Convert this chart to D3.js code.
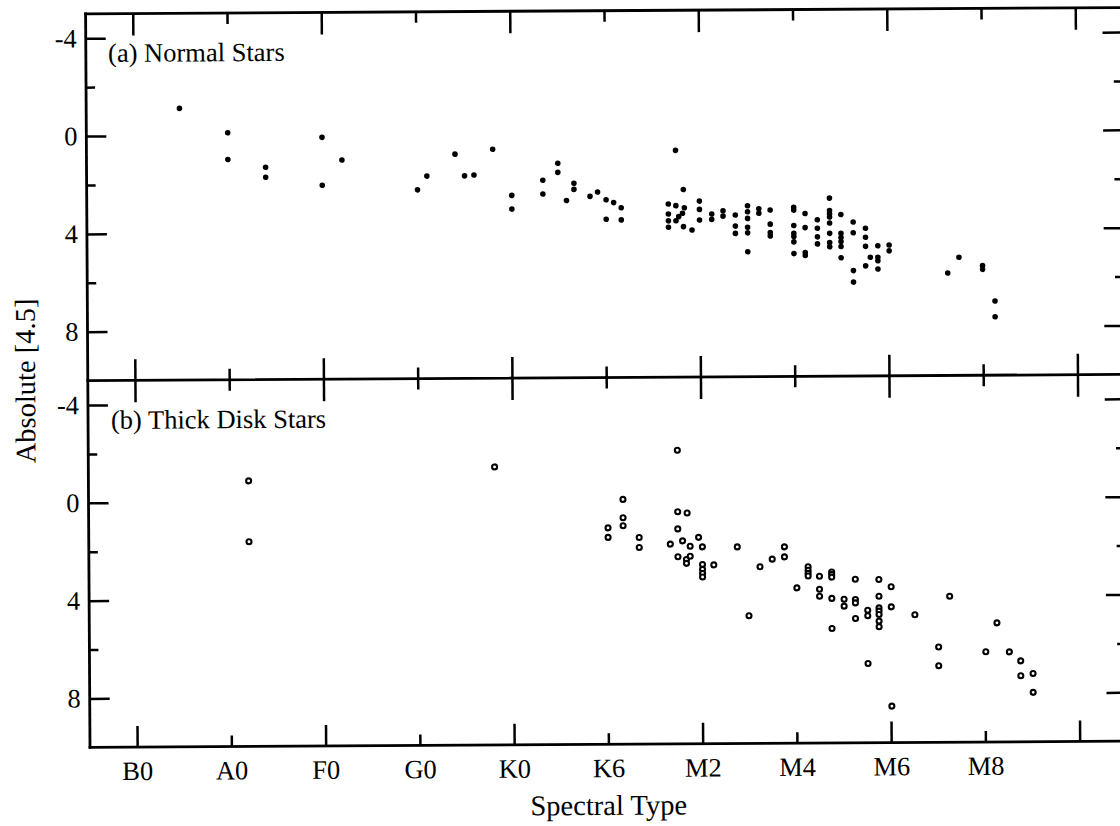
<!DOCTYPE html>
<html>
<head>
<meta charset="utf-8">
<script src="https://cdn.jsdelivr.net/npm/d3@7"></script>
<style>
  html, body { margin: 0; padding: 0; background: #ffffff; }
  svg { display: block; }
</style>
</head>
<body>
<svg id="chart" width="1120" height="826"></svg>
<script>
// ---------- data ----------
// x: spectral type as index (0 = B0, 1 = A0, 2 = F0, 3 = G0, 4 = K0, 5 = K6, 6 = M2, 7 = M4, 8 = M6, 9 = M8)
const spectralLabels = ["B0", "A0", "F0", "G0", "K0", "K6", "M2", "M4", "M6", "M8", ""];
const yMajorTicks = [-4, 0, 4, 8];
const yMinorTicks = [-2, 2, 6];
const panelLabels = ["(a) Normal Stars", "(b) Thick Disk Stars"];
const xTitle = "Spectral Type";
const yTitle = "Absolute [4.5]";

const normalX = [0.49, 1.00, 1.00, 1.40, 1.40, 2.00, 2.00, 2.21, 3.01, 3.11,
  3.41, 3.51, 3.61, 3.81, 4.01, 4.01, 4.34, 4.34, 4.50, 4.50,
  4.59, 4.67, 4.67, 4.84, 4.92, 5.01, 5.01, 5.09, 5.17, 5.17,
  5.75, 5.83, 5.67, 5.75, 5.67, 5.67, 5.67, 5.84, 5.82, 5.78,
  5.75, 5.83, 5.92, 6.00, 6.00, 6.00, 6.13, 6.13, 6.25, 6.25,
  6.38, 6.38, 6.38, 6.51, 6.51, 6.51, 6.51, 6.51, 6.51, 6.63,
  6.63, 6.75, 6.75, 6.75, 6.75, 7.00, 7.00, 7.00, 7.00, 7.00,
  7.00, 7.00, 7.12, 7.12, 7.12, 7.12, 7.25, 7.25, 7.25, 7.25,
  7.38, 7.38, 7.38, 7.38, 7.38, 7.38, 7.38, 7.38, 7.50, 7.50,
  7.50, 7.50, 7.50, 7.50, 7.63, 7.63, 7.63, 7.63, 7.76, 7.76,
  7.76, 7.76, 7.81, 7.89, 7.89, 7.89, 7.89, 8.01, 8.01, 8.63,
  8.75, 9.00, 9.00, 9.13, 9.13];
const normalY = [-1.11, -0.10, 0.99, 1.32, 1.73, 0.11, 2.07, 1.04, 2.28, 1.72,
  0.83, 1.72, 1.69, 0.64, 2.53, 3.09, 1.92, 2.48, 1.23, 1.60,
  2.75, 2.05, 2.30, 2.59, 2.41, 2.73, 3.53, 2.85, 3.06, 3.56,
  0.73, 2.33, 2.92, 2.99, 3.33, 3.61, 3.87, 3.08, 3.30, 3.44,
  3.61, 3.85, 3.99, 2.81, 3.15, 3.58, 3.34, 3.56, 3.21, 3.43,
  3.39, 3.84, 4.14, 3.01, 3.26, 3.53, 3.89, 4.12, 4.89, 3.14,
  3.32, 3.19, 3.77, 4.11, 4.25, 3.09, 3.20, 3.83, 4.15, 4.28,
  4.50, 4.98, 3.34, 3.92, 4.94, 5.06, 3.60, 3.95, 4.30, 4.59,
  2.72, 3.23, 3.36, 3.49, 3.74, 4.16, 4.54, 4.71, 3.39, 4.16,
  4.33, 4.50, 4.70, 5.16, 3.70, 4.14, 5.69, 6.16, 3.96, 4.33,
  4.70, 5.50, 5.15, 4.68, 5.15, 5.29, 5.63, 4.65, 4.89, 5.81,
  5.17, 5.51, 5.67, 6.97, 7.61];

const thickX = [1.20, 1.20, 3.81, 5.75, 5.17, 5.17, 5.17, 5.01, 5.01, 5.34,
  5.34, 5.75, 5.85, 5.75, 5.67, 5.80, 5.88, 5.97, 6.01, 5.75,
  5.84, 5.84, 5.88, 6.01, 6.01, 6.01, 6.01, 6.13, 6.38, 6.62,
  6.50, 6.88, 6.88, 6.75, 7.13, 7.13, 7.13, 7.13, 7.25, 7.38,
  7.38, 7.38, 7.01, 7.25, 7.25, 7.38, 7.51, 7.51, 7.63, 7.63,
  7.63, 7.63, 7.76, 7.76, 7.76, 7.88, 7.88, 7.88, 7.88, 7.88,
  7.88, 7.88, 8.01, 8.01, 7.38, 8.63, 8.26, 8.51, 8.51, 9.13,
  9.01, 9.26, 9.38, 9.38, 9.51, 9.51, 8.01];
const thickY = [-0.86, 1.63, -1.37, -2.01, -0.01, 0.74, 1.07, 1.15, 1.54, 1.55,
  1.96, 0.51, 0.56, 1.21, 1.83, 1.70, 1.92, 1.56, 1.95, 2.35,
  2.46, 2.62, 2.33, 2.67, 2.87, 3.04, 3.18, 2.69, 1.96, 2.78,
  4.78, 1.97, 2.38, 2.47, 2.79, 2.93, 3.06, 3.17, 3.18, 3.01,
  3.11, 3.22, 3.65, 3.71, 4.00, 4.09, 4.13, 4.41, 4.14, 4.28,
  3.31, 4.92, 4.58, 4.81, 6.76, 3.33, 4.01, 4.49, 4.62, 4.76,
  5.03, 5.26, 3.63, 4.45, 5.32, 4.03, 4.78, 6.10, 6.87, 5.13,
  6.31, 6.32, 6.69, 7.30, 7.21, 7.98, 8.51];

// ---------- layout ----------
const W = 1120, H = 826;
const plotLeft = 87.8, plotRight = 1124.6, plotTop = 13.8, plotMid = 380.6, plotBottom = 747.4;
const serif = "'Liberation Serif', 'Times New Roman', Times, serif";

const svg = d3.select("#chart");
svg.append("rect").attr("width", W).attr("height", H).attr("fill", "#ffffff");

// the scanned figure is slightly tilted
const g = svg.append("g").attr("transform", `rotate(-0.344, ${plotLeft}, ${plotMid})`);

const x = d3.scaleLinear().domain([-0.5, 10.5]).range([plotLeft, plotRight]);
const yA = d3.scaleLinear().domain([-5, 10]).range([plotTop, plotMid]);
const yB = d3.scaleLinear().domain([-5, 10]).range([plotMid, plotBottom]);

const evenIdx = d3.range(0, 11, 2);
const oddIdx = d3.range(1, 11, 2);

function styleAxis(sel, showText) {
  sel.select(".domain").remove();
  sel.selectAll(".tick line").attr("stroke", "#000").attr("stroke-width", 2.5);
  sel.selectAll(".tick text")
    .attr("font-family", serif)
    .attr("font-size", 26.5)
    .attr("fill", "#000");
  if (!showText) sel.selectAll(".tick text").remove();
  sel.attr("font-family", null).attr("font-size", null);
}

function drawPanel(yScale, yTop, yBot, showXLabels) {
  // top x ticks (pointing down)
  g.append("g").attr("transform", `translate(0,${yTop})`)
    .call(d3.axisTop(x).tickValues(evenIdx).tickSize(-22).tickFormat(""))
    .call(s => styleAxis(s, false));
  g.append("g").attr("transform", `translate(0,${yTop})`)
    .call(d3.axisTop(x).tickValues(oddIdx).tickSize(-11).tickFormat(""))
    .call(s => styleAxis(s, false));
  // bottom x ticks (pointing up)
  g.append("g").attr("transform", `translate(0,${yBot})`)
    .call(d3.axisBottom(x).tickValues(evenIdx).tickSize(-21).tickFormat(""))
    .call(s => styleAxis(s, false));
  g.append("g").attr("transform", `translate(0,${yBot})`)
    .call(d3.axisBottom(x).tickValues(oddIdx).tickSize(-11).tickFormat(""))
    .call(s => styleAxis(s, false));
  if (showXLabels) {
    g.append("g").attr("transform", `translate(0,${yBot})`)
      .call(d3.axisBottom(x).tickValues(d3.range(0, 11)).tickSize(0).tickPadding(14)
        .tickFormat(i => spectralLabels[i]))
      .call(s => styleAxis(s, true))
      .call(s => s.selectAll(".tick line").remove());
  }
  // left y ticks
  g.append("g").attr("transform", `translate(${plotLeft},0)`)
    .call(d3.axisLeft(yScale).tickValues(yMajorTicks).tickSize(-20).tickPadding(9)
      .tickFormat(d => d < 0 ? "-" + Math.abs(d) : String(d)))
    .call(s => styleAxis(s, true));
  g.append("g").attr("transform", `translate(${plotLeft},0)`)
    .call(d3.axisLeft(yScale).tickValues(yMinorTicks).tickSize(-9).tickFormat(""))
    .call(s => styleAxis(s, false));
  // right y ticks
  g.append("g").attr("transform", `translate(${plotRight},0)`)
    .call(d3.axisRight(yScale).tickValues(yMajorTicks).tickSize(-20).tickFormat(""))
    .call(s => styleAxis(s, false));
  g.append("g").attr("transform", `translate(${plotRight},0)`)
    .call(d3.axisRight(yScale).tickValues(yMinorTicks).tickSize(-9).tickFormat(""))
    .call(s => styleAxis(s, false));
}

drawPanel(yA, plotTop, plotMid, false);
drawPanel(yB, plotMid, plotBottom, true);

// frame
const frame = g.append("g").attr("stroke", "#000").attr("stroke-width", 2.8)
  .attr("stroke-linecap", "square").attr("fill", "none");
[plotTop, plotMid, plotBottom].forEach(yy => {
  frame.append("line").attr("x1", plotLeft).attr("x2", plotRight).attr("y1", yy).attr("y2", yy);
});
[plotLeft, plotRight].forEach(xx => {
  frame.append("line").attr("x1", xx).attr("x2", xx).attr("y1", plotTop).attr("y2", plotBottom);
});

// panel labels
g.append("text").attr("x", 110).attr("y", 62)
  .attr("font-family", serif).attr("font-size", 26.5).attr("fill", "#000")
  .text(panelLabels[0]);
g.append("text").attr("x", 110.7).attr("y", 429)
  .attr("font-family", serif).attr("font-size", 26.5).attr("fill", "#000")
  .text(panelLabels[1]);

// axis titles
g.append("text").attr("x", (plotLeft + plotRight) / 2).attr("y", 818)
  .attr("text-anchor", "middle")
  .attr("font-family", serif).attr("font-size", 28.5).attr("fill", "#000")
  .text(xTitle);
g.append("text")
  .attr("transform", `translate(35,${(plotTop + plotBottom) / 2}) rotate(-90)`)
  .attr("text-anchor", "middle")
  .attr("font-family", serif).attr("font-size", 28.5).attr("fill", "#000")
  .text(yTitle);

// points
const normal = normalX.map((v, i) => ({ x: v, y: normalY[i] }));
const thick = thickX.map((v, i) => ({ x: v, y: thickY[i] }));

g.append("g").selectAll("circle").data(normal).join("circle")
  .attr("cx", d => x(d.x)).attr("cy", d => yA(d.y))
  .attr("r", 2.8).attr("fill", "#000");

g.append("g").selectAll("circle").data(thick).join("circle")
  .attr("cx", d => x(d.x)).attr("cy", d => yB(d.y))
  .attr("r", 2.5).attr("fill", "#fff").attr("stroke", "#000").attr("stroke-width", 2.1);
</script>
</body>
</html>
